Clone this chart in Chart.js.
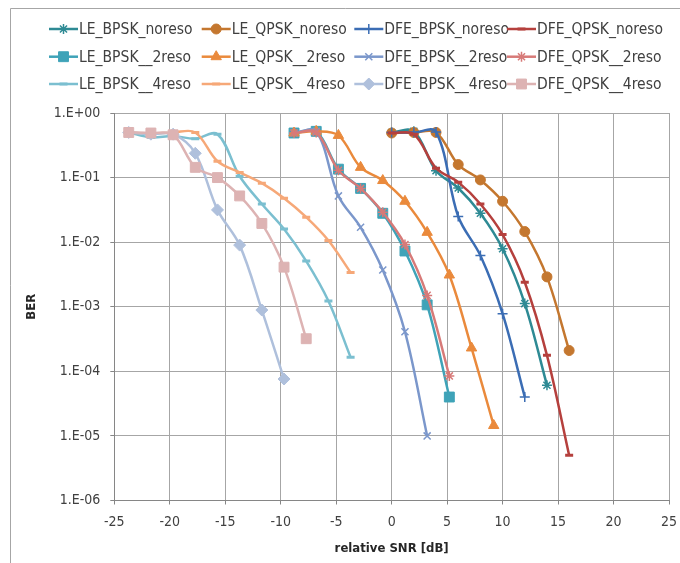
<!DOCTYPE html>
<html>
<head>
<meta charset="utf-8">
<script src="https://cdn.jsdelivr.net/npm/chart.js@4.4.0/dist/chart.umd.min.js"></script>
<style>
  html, body { margin: 0; background: #fff; }
  #wrap { width: 680px; height: 563px; position: relative; }
</style>
</head>
<body>
<div id="wrap"><canvas id="berChart"></canvas></div>
<script>
// =============================================================================
// BER vs relative SNR (LE / DFE, BPSK / QPSK, noreso / 2reso / 4reso)
// =============================================================================

// ---------------------------------------------------------------------------
// Data
// ---------------------------------------------------------------------------
const xNoreso = [0, 2, 4, 6, 8, 10, 12, 14, 16];
const x2reso = [-8.8, -6.8, -4.8, -2.8, -0.8, 1.2, 3.2, 5.2, 7.2, 9.2];
const x4reso = [-23.7, -21.7, -19.7, -17.7, -15.7, -13.7, -11.7, -9.7, -7.7, -5.7, -3.7];

const LE_BPSK_noreso  = [0.50, 0.52, 0.128, 0.069, 0.028, 0.0079, 0.00112, 6.1e-5];
const LE_QPSK_noreso  = [0.49, 0.50, 0.50, 0.159, 0.092, 0.043, 0.0146, 0.0029, 2.1e-4];
const DFE_BPSK_noreso = [0.50, 0.50, 0.51, 0.025, 0.0062, 7.8e-4, 4.0e-5];
const DFE_QPSK_noreso = [0.49, 0.47, 0.14, 0.085, 0.039, 0.0131, 0.0024, 1.77e-4, 5.0e-6];

const LE_BPSK_2reso  = [0.49, 0.52, 0.135, 0.068, 0.028, 0.0073, 0.00107, 4.0e-5];
const LE_QPSK_2reso  = [0.49, 0.52, 0.45, 0.144, 0.09, 0.043, 0.0142, 0.0031, 2.3e-4, 1.45e-5];
const DFE_BPSK_2reso = [0.49, 0.52, 0.052, 0.017, 0.0037, 4.1e-4, 1.0e-5];
const DFE_QPSK_2reso = [0.49, 0.50, 0.13, 0.068, 0.029, 0.0092, 0.0015, 8.5e-5];

const LE_BPSK_4reso  = [0.50, 0.42, 0.44, 0.40, 0.47, 0.105, 0.039, 0.016, 0.0051, 0.00123, 1.65e-4];
const LE_QPSK_4reso  = [0.50, 0.48, 0.50, 0.50, 0.179, 0.12, 0.082, 0.048, 0.0244, 0.0106, 0.0034];
const DFE_BPSK_4reso = [0.50, 0.47, 0.47, 0.238, 0.0316, 0.0090, 8.9e-4, 7.6e-5];
const DFE_QPSK_4reso = [0.50, 0.49, 0.46, 0.144, 0.10, 0.052, 0.0195, 0.0041, 3.2e-4];

const yTickValues = [1e-6, 1e-5, 1e-4, 1e-3, 1e-2, 1e-1, 1];
const yTickLabels = ["1.E-06", "1.E-05", "1.E-04", "1.E-03", "1.E-02", "1.E-01", "1.E+00"];

// ---------------------------------------------------------------------------
// Series setup
// ---------------------------------------------------------------------------
const FONT = '"DejaVu Sans Condensed", "Liberation Sans Narrow", sans-serif';
const TEXT = "#404040";

function pts(xs, ys) {
  return ys.map((y, i) => ({ x: xs[i], y }));
}

// label, x, y, colour, marker, marker radius, marker line width
const SERIES = [
  ["LE_BPSK_noreso",  xNoreso, LE_BPSK_noreso,  "#2E8A94", "star",     5, 1.5],
  ["LE_QPSK_noreso",  xNoreso, LE_QPSK_noreso,  "#C4772F", "circle",   5, 1],
  ["DFE_BPSK_noreso", xNoreso, DFE_BPSK_noreso, "#3B6DB4", "cross",    5, 1.5],
  ["DFE_QPSK_noreso", xNoreso, DFE_QPSK_noreso, "#B5403D", "line",     4, 3],
  ["LE_BPSK__2reso",  x2reso,  LE_BPSK_2reso,   "#3FA3B8", "rect",     7, 1],
  ["LE_QPSK__2reso",  x2reso,  LE_QPSK_2reso,   "#EA8A3C", "triangle", 6, 1],
  ["DFE_BPSK__2reso", x2reso,  DFE_BPSK_2reso,  "#7B97CB", "crossRot", 5, 1.5],
  ["DFE_QPSK__2reso", x2reso,  DFE_QPSK_2reso,  "#D77A78", "star",     5, 1.5],
  ["LE_BPSK__4reso",  x4reso,  LE_BPSK_4reso,   "#7BBFD0", "line",     4, 3],
  ["LE_QPSK__4reso",  x4reso,  LE_QPSK_4reso,   "#F6A878", "line",     4, 3],
  ["DFE_BPSK__4reso", x4reso,  DFE_BPSK_4reso,  "#AFC0DC", "rectRot",  6, 1],
  ["DFE_QPSK__4reso", x4reso,  DFE_QPSK_4reso,  "#DDB3B3", "rect",     7, 1],
];

const datasets = SERIES.map(([label, xs, ys, color, marker, r, bw], i) => ({
  label,
  data: pts(xs, ys),
  showLine: true,
  borderColor: color,
  backgroundColor: color,
  borderWidth: 2.5,
  tension: 0.35,
  pointStyle: marker,
  pointRadius: r,
  pointHoverRadius: r,
  pointBackgroundColor: color,
  pointBorderColor: color,
  pointBorderWidth: bw,
  order: SERIES.length - 1 - i, // later series on top, like the original
}));

// ---------------------------------------------------------------------------
// Legend + frame (drawn by hand: line with marker in the middle)
// ---------------------------------------------------------------------------
const LEGEND_X = [49, 201.7, 354.3, 507];
const LEGEND_Y = [29, 56.7, 84];

const excelLegend = {
  id: "excelLegend",
  afterDraw(chart) {
    const ctx = chart.ctx;
    ctx.save();
    // outer frame
    ctx.strokeStyle = "#A6A6A6";
    ctx.lineWidth = 1;
    ctx.beginPath();
    ctx.moveTo(10.5, 563);
    ctx.lineTo(10.5, 8.5);
    ctx.lineTo(680, 8.5);
    ctx.stroke();

    chart.data.datasets.forEach((ds, i) => {
      const x0 = LEGEND_X[i % 4];
      const y = LEGEND_Y[Math.floor(i / 4)];
      ctx.strokeStyle = ds.borderColor;
      ctx.lineWidth = 2.5;
      ctx.beginPath();
      ctx.moveTo(x0, y);
      ctx.lineTo(x0 + 29, y);
      ctx.stroke();

      ctx.fillStyle = ds.pointBackgroundColor;
      ctx.strokeStyle = ds.pointBorderColor;
      ctx.lineWidth = ds.pointBorderWidth;
      Chart.helpers.drawPoint(ctx, {
        pointStyle: ds.pointStyle,
        radius: ds.pointRadius,
        rotation: 0,
        borderWidth: ds.pointBorderWidth,
      }, x0 + 14.5, y);

      ctx.fillStyle = TEXT;
      ctx.font = "15.5px " + FONT;
      ctx.textBaseline = "middle";
      ctx.fillText(ds.label, x0 + 30, y + 1);
    });
    ctx.restore();
  }
};

// ---------------------------------------------------------------------------
// Chart
// ---------------------------------------------------------------------------
Chart.defaults.font.family = FONT;
Chart.defaults.color = TEXT;

new Chart(document.getElementById("berChart"), {
  type: "scatter",
  data: { datasets },
  plugins: [excelLegend],
  options: {
    responsive: true,
    maintainAspectRatio: false,
    devicePixelRatio: 1,
    animation: false,
    layout: { padding: { top: 113, left: 20, right: 0, bottom: 3 } },
    plugins: { legend: { display: false }, tooltip: { enabled: false } },
    scales: {
      x: {
        type: "linear",
        min: -25,
        max: 25,
        ticks: { stepSize: 5, font: { size: 14 }, padding: 9, color: TEXT },
        grid: { color: "#A6A6A6", tickLength: 4, tickColor: "#868686" },
        border: { color: "#868686" },
        title: { display: true, text: "relative SNR [dB]", font: { size: 13, weight: "bold" }, color: "#262626" },
        afterFit(scale) {
          scale.height = 59.5;
          scale.paddingLeft = 0;
          scale.paddingRight = 11;
        },
      },
      y: {
        type: "logarithmic",
        min: 1e-6,
        max: 1,
        afterBuildTicks(scale) { scale.ticks = yTickValues.map(v => ({ value: v })); },
        ticks: {
          font: { size: 14 },
          padding: 10,
          color: TEXT,
          callback: (v, i) => yTickLabels[i],
        },
        grid: { color: "#A6A6A6", tickLength: 4, tickColor: "#868686" },
        border: { color: "#868686" },
        title: { display: true, text: "BER", font: { size: 13, weight: "bold" }, color: "#262626" },
        afterFit(scale) { scale.width = 94.3; },
      },
    },
  },
});
</script>
</body>
</html>
